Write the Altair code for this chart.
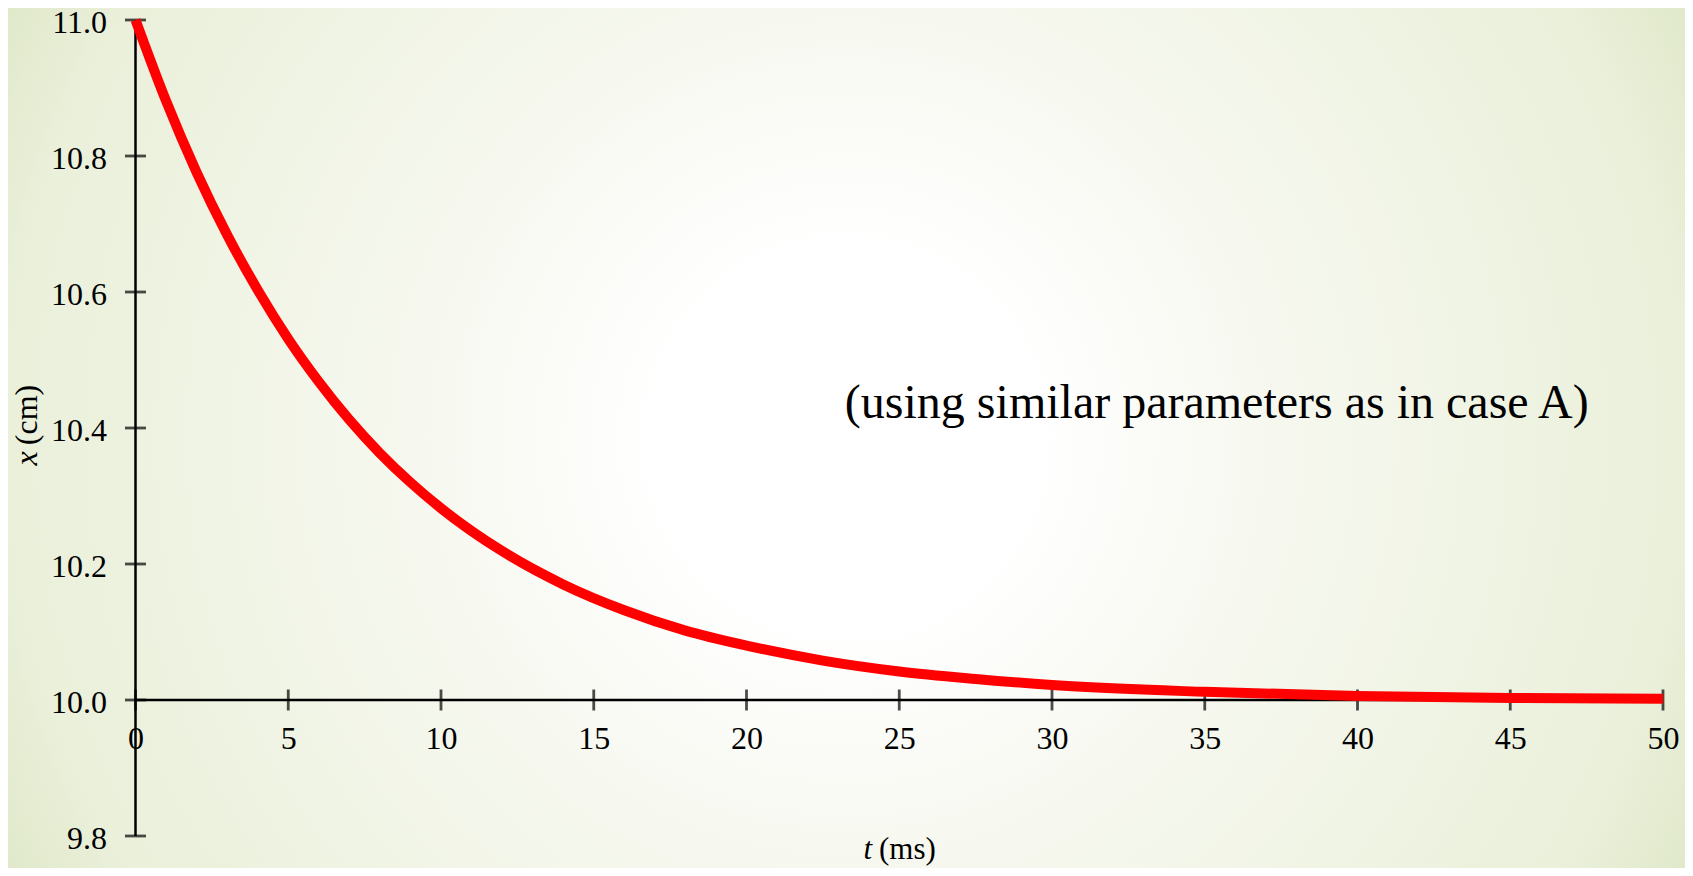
import altair as alt
import pandas as pd

# ---- data ----
t_ms = [0, 1, 2, 3, 4, 5, 6, 7, 8, 9, 10, 12, 14, 16, 18, 20, 22.5, 25, 27.5, 30, 35, 40, 45, 50]
x_cm = [11.000, 10.881, 10.776, 10.684, 10.603, 10.531, 10.468, 10.412, 10.363, 10.320,
        10.282, 10.219, 10.170, 10.132, 10.102, 10.080, 10.058, 10.042, 10.031, 10.022,
        10.012, 10.006, 10.003, 10.002]
y_ticks = [9.8, 10.0, 10.2, 10.4, 10.6, 10.8, 11.0]
x_ticks = [0, 5, 10, 15, 20, 25, 30, 35, 40, 45, 50]
x_axis_at = [10.0]
note_text = ["(using similar parameters as in case A)"]
note_t = [23.22]
note_x = [10.414]

# ---- layout ----
W, H = 1527.5, 816
PL, PT, PR, PB = 127.5, 12, 22, 32
FONT = "Liberation Serif"
X_AXIS_OFFSET = -136  # x axis drawn at x = 10.0

xscale = alt.Scale(domain=[0, 50], nice=False, zero=False)
yscale = alt.Scale(domain=[9.8, 11.0], nice=False, zero=False)

x_axis = alt.Axis(
    values=x_ticks, format="d", domain=False, ticks=False, grid=False,
    labelPadding=23, labelFlush=False, offset=X_AXIS_OFFSET,
    labelFont=FONT, labelFontSize=32, labelColor="black", title=None, zindex=1)
y_axis = alt.Axis(
    values=y_ticks, format=".1f", domain=False, ticks=False, grid=False,
    labelPadding=29, labelOffset=2, labelFont=FONT, labelFontSize=32, labelColor="black",
    title=None, zindex=1)


def X(field):
    return alt.X(field, scale=xscale, axis=x_axis)


def Y(field):
    return alt.Y(field, scale=yscale, axis=y_axis)


curve = pd.DataFrame({"t": t_ms, "x": x_cm})
one = pd.DataFrame({"a": [0]})

bg = alt.Chart(one).mark_rect(
    fill=alt.RadialGradient(
        gradient="radial",
        stops=[
            alt.GradientStop(offset=0, color="#ffffff"),
            alt.GradientStop(offset=0.2, color="#ffffff"),
            alt.GradientStop(offset=0.46, color="#f6f8ef"),
            alt.GradientStop(offset=0.89, color="#eaf0da"),
            alt.GradientStop(offset=1, color="#e1e9cb"),
        ],
        x1=0.5, y1=0.5, r1=0, x2=0.5, y2=0.5, r2=0.56,
    )
).encode(
    x=alt.value(-PL), x2=alt.value(W + PR), y=alt.value(-PT), y2=alt.value(H + PB)
)

# axis lines through the scales
yline = alt.Chart(pd.DataFrame({"t": [x_ticks[0]], "y0": [y_ticks[0]], "y1": [y_ticks[-1]]})).mark_rule(
    color="black", strokeWidth=2.5
).encode(x=X("t:Q"), y=Y("y0:Q"), y2="y1:Q")

xline = alt.Chart(pd.DataFrame({"t0": [x_ticks[0]], "t1": [x_ticks[-1]], "y": x_axis_at})).mark_rule(
    color="black", strokeWidth=2.5
).encode(x=X("t0:Q"), x2="t1:Q", y=Y("y:Q"))

# cross ticks
yt = alt.Chart(pd.DataFrame({"t": [0] * len(y_ticks), "y": y_ticks})).mark_tick(
    orient="horizontal", color="black", size=21, thickness=2.8
).encode(x=X("t:Q"), y=Y("y:Q"))

xt = alt.Chart(pd.DataFrame({"t": x_ticks, "y": x_axis_at * len(x_ticks)})).mark_tick(
    orient="vertical", color="black", size=21, thickness=2.8
).encode(x=X("t:Q"), y=Y("y:Q"))

line = alt.Chart(curve).mark_line(
    color="#ff0000", strokeWidth=10, interpolate="monotone"
).encode(x=X("t:Q"), y=Y("x:Q"))

note = alt.Chart(pd.DataFrame({"t": note_t, "x": note_x, "label": note_text})).mark_text(
    align="left", baseline="alphabetic", font=FONT, fontSize=48, color="black"
).encode(x=X("t:Q"), y=Y("x:Q"), text="label:N")

# axis titles (italic variable + unit)
TY = H + 23
tx_var = alt.Chart(one).mark_text(align="right", baseline="alphabetic", font=FONT,
                                  fontSize=31, fontStyle="italic", color="black").encode(
    x=alt.value(736.5), y=alt.value(TY), text=alt.value("t"))
tx_unit = alt.Chart(one).mark_text(align="left", baseline="alphabetic", font=FONT,
                                   fontSize=31, color="black").encode(
    x=alt.value(743.5), y=alt.value(TY), text=alt.value("(ms)"))
TX = -98.5
ty_var = alt.Chart(one).mark_text(align="center", baseline="alphabetic", font=FONT,
                                  fontSize=32, fontStyle="italic", angle=270, color="black").encode(
    x=alt.value(TX), y=alt.value(438.5), text=alt.value("x"))
ty_unit = alt.Chart(one).mark_text(align="center", baseline="alphabetic", font=FONT,
                                   fontSize=32, angle=270, color="black").encode(
    x=alt.value(TX), y=alt.value(395), text=alt.value("(cm)"))

chart = alt.layer(
    bg, yline, xline, yt, xt, line, note, tx_var, tx_unit, ty_var, ty_unit
).properties(
    width=W, height=H,
    autosize=alt.AutoSizeParams(type="none"),
    padding={"left": PL, "top": PT, "right": PR, "bottom": PB},
    background="white",
).configure_view(strokeWidth=0)

chart.save("out.html", embed_options={"renderer": "svg", "actions": False})
